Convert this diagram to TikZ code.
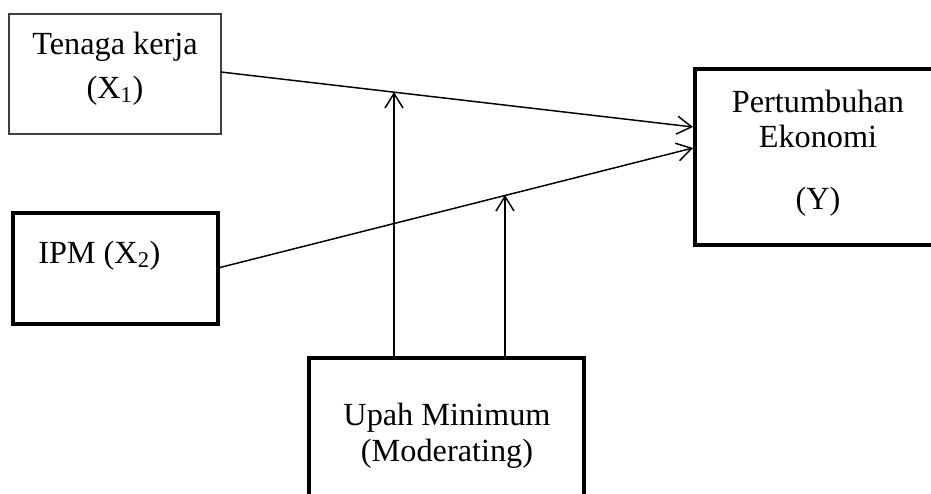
\documentclass[tikz,border=0pt]{standalone}
\usepackage{fontspec}
\setmainfont{Liberation Serif}
\usetikzlibrary{arrows.meta}
\tikzset{
  thinbox/.style={draw=black!75, line width=0.9pt, inner sep=0pt},
  thickbox/.style={draw=black, line width=3pt, inner sep=0pt},
  lbl/.style={font=\fontsize{24.2}{29}\selectfont, inner sep=0pt, anchor=base},
  link/.style={line width=1.1pt, -{Straight Barb[length=11pt, width=13.5pt, line width=1.1pt]}}
}
\begin{document}
\begin{tikzpicture}[x=0.75pt, y=-0.75pt]
  \useasboundingbox (0,0) rectangle (931,493);
  \fill[white] (0,0) rectangle (931,493);
  \clip (0,0) rectangle (931,493);

  % boxes
  \node[thinbox, minimum width=212*0.75pt, minimum height=120*0.75pt] (tk) at (115,74) {};
  \node[thickbox, minimum width=205*0.75pt, minimum height=111*0.75pt] (ipm) at (115.5,268.5) {};
  \node[thickbox, minimum width=260*0.75pt, minimum height=176*0.75pt] (py) at (825,157) {};
  \node[thickbox, minimum width=275*0.75pt, minimum height=170*0.75pt] (um) at (446.5,443) {};

  % labels
  \node[lbl] (tkA) at (115,54) {Tenaga kerja};
  \node[lbl] (tkB) at (115,98) {(X\textsubscript{1})};
  \node[lbl, anchor=base west] (ipmA) at (38,263) {IPM (X\textsubscript{2})};
  \node[lbl] (pyA) at (818,112) {Pertumbuhan};
  \node[lbl] (pyB) at (818,147) {Ekonomi};
  \node[lbl] (pyC) at (818,209) {(Y)};
  \node[lbl] (umA) at (447,425) {Upah Minimum};
  \node[lbl] (umB) at (447,461) {(Moderating)};

  % connector end points
  \coordinate (tkOut) at (221,72);
  \coordinate (ipmOut) at (218,268);
  \coordinate (pyIn1) at (693,127);
  \coordinate (pyIn2) at (693,148);
  \coordinate (umOut1) at (394,358);
  \coordinate (umOut2) at (505,358);
  \coordinate (mod1) at (394,92);
  \coordinate (mod2) at (505,195);

  % direct effects
  \draw[link] (tkOut) -- (pyIn1);
  \draw[link] (ipmOut) -- (pyIn2);
  % moderating effects
  \draw[link] (umOut1) -- (mod1);
  \draw[link] (umOut2) -- (mod2);
\end{tikzpicture}
\end{document}
